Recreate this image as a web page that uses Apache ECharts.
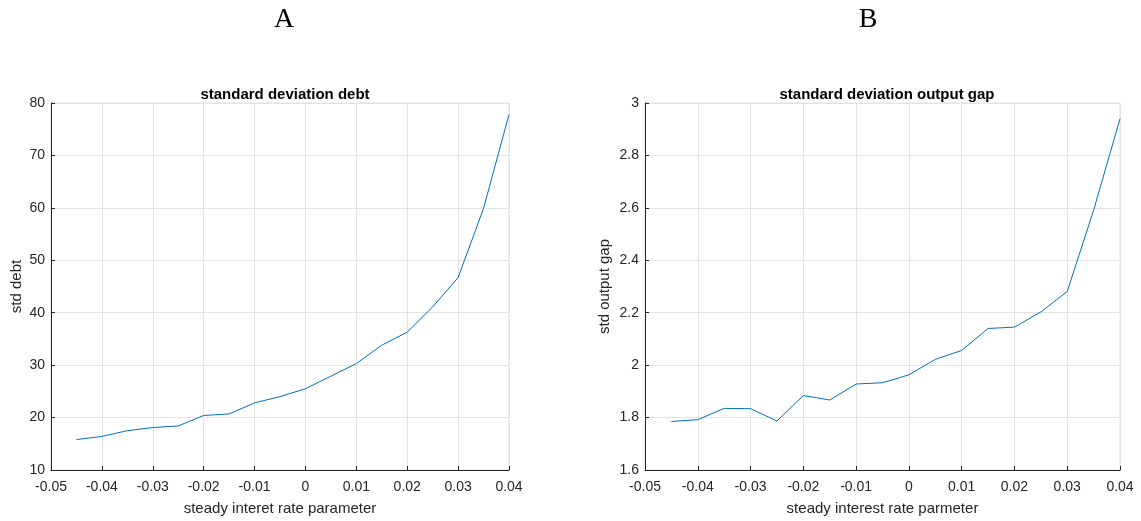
<!DOCTYPE html>
<html>
<head>
<meta charset="utf-8">
<script src="https://cdn.jsdelivr.net/npm/echarts@6/dist/echarts.min.js"></script>
<style>
  html, body { margin: 0; padding: 0; background: #ffffff; }
  #chart { width: 1141px; height: 521px; }
</style>
</head>
<body>
<div id="chart"></div>
<script>
// Steady-state interest rate parameter grid
const rates = [-0.045, -0.04, -0.035, -0.03, -0.025, -0.02, -0.015, -0.01, -0.005,
               0, 0.005, 0.01, 0.015, 0.02, 0.025, 0.03, 0.035, 0.04];

// Standard deviation of debt at each rate
const stdDebt = [15.8, 16.4, 17.5, 18.1, 18.4, 20.4, 20.7, 22.8, 24.0,
                 25.5, 27.9, 30.3, 33.8, 36.3, 41.1, 46.7, 59.9, 77.8];

// Standard deviation of the output gap at each rate
const stdGap = [1.785, 1.792, 1.835, 1.834, 1.787, 1.884, 1.867, 1.928, 1.933,
                1.963, 2.022, 2.056, 2.140, 2.145, 2.203, 2.281, 2.591, 2.940];

const panelLetters = ['A', 'B'];
const panelTitles = ['standard deviation debt', 'standard deviation output gap'];
const xNames = ['steady interet rate parameter', 'steady interest rate parmeter'];
const yNames = ['std debt', 'std output gap'];

const axisColor = '#262626';
const gridColor = '#e3e3e3';
const lineColor = '#0072BD';
const sansFont = 'Liberation Sans, Arial, sans-serif';
const serifFont = 'Liberation Serif, DejaVu Serif, serif';

const grids = [
  { left: 51, top: 103, width: 458, height: 367 },
  { left: 645, top: 103, width: 475, height: 367 }
];

function pair(xs, ys) { return xs.map((x, i) => [x, ys[i]]); }

function xAxisFor(i) {
  return {
    type: 'value', gridIndex: i, min: -0.05, max: 0.04, interval: 0.01,
    name: xNames[i], nameLocation: 'middle', nameGap: 31,
    nameTextStyle: { color: axisColor, fontSize: 15, fontFamily: sansFont },
    axisLine: { show: true, onZero: false, lineStyle: { color: axisColor, width: 1 } },
    axisTick: { show: true, inside: true, length: 4, lineStyle: { color: axisColor } },
    axisLabel: { color: axisColor, fontSize: 14, fontFamily: sansFont, margin: 10,
                 formatter: v => String(Math.round(v * 100) / 100) },
    splitLine: { show: true, lineStyle: { color: gridColor, width: 1 } }
  };
}

function yAxisFor(i, min, max, interval, gap) {
  return {
    type: 'value', gridIndex: i, min: min, max: max, interval: interval,
    name: yNames[i], nameLocation: 'middle', nameGap: gap,
    nameTextStyle: { color: axisColor, fontSize: 15, fontFamily: sansFont },
    axisLine: { show: true, onZero: false, lineStyle: { color: axisColor, width: 1 } },
    axisTick: { show: true, inside: true, length: 4, lineStyle: { color: axisColor } },
    axisLabel: { color: axisColor, fontSize: 14, fontFamily: sansFont, margin: 6,
                 formatter: v => String(Math.round(v * 10) / 10) },
    splitLine: { show: true, lineStyle: { color: gridColor, width: 1 } }
  };
}

const option = {
  backgroundColor: '#ffffff',
  animation: false,
  title: [
    { text: panelLetters[0], left: 279, top: 1, textAlign: 'center',
      textStyle: { fontFamily: serifFont, fontSize: 28, fontWeight: 'normal', color: '#000' } },
    { text: panelLetters[1], left: 863, top: 1, textAlign: 'center',
      textStyle: { fontFamily: serifFont, fontSize: 28, fontWeight: 'normal', color: '#000' } },
    { text: panelTitles[0], left: 280, top: 82, textAlign: 'center',
      textStyle: { fontFamily: sansFont, fontSize: 15, fontWeight: 'bold', color: '#000' } },
    { text: panelTitles[1], left: 882, top: 82, textAlign: 'center',
      textStyle: { fontFamily: sansFont, fontSize: 15, fontWeight: 'bold', color: '#000' } }
  ],
  grid: grids.map(g => Object.assign({ show: true, borderColor: gridColor, borderWidth: 1,
                                       backgroundColor: 'transparent' }, g)),
  xAxis: [xAxisFor(0), xAxisFor(1)],
  yAxis: [yAxisFor(0, 10, 80, 10, 27), yAxisFor(1, 1.6, 3.0, 0.2, 33)],
  series: [
    { type: 'line', xAxisIndex: 0, yAxisIndex: 0, data: pair(rates, stdDebt),
      showSymbol: false, lineStyle: { color: lineColor, width: 1 } },
    { type: 'line', xAxisIndex: 1, yAxisIndex: 1, data: pair(rates, stdGap),
      showSymbol: false, lineStyle: { color: lineColor, width: 1 } }
  ]
};

echarts.init(document.getElementById('chart')).setOption(option);
</script>
</body>
</html>
